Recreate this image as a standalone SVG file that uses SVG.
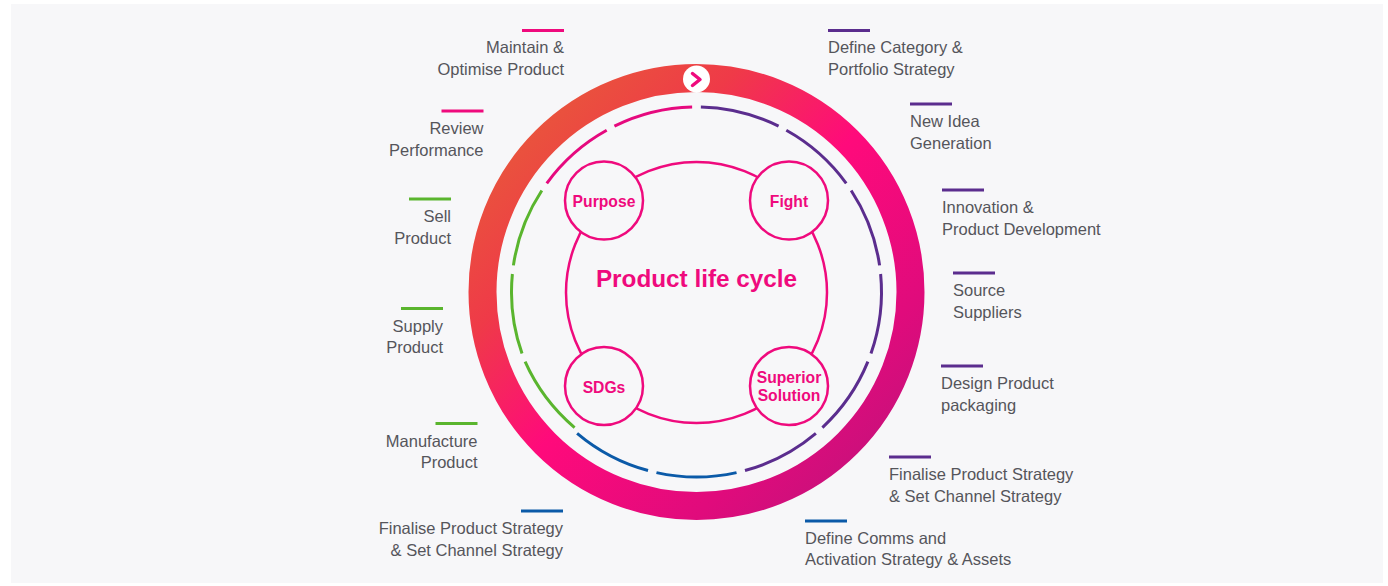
<svg xmlns="http://www.w3.org/2000/svg" width="1388" height="586" viewBox="0 0 1388 586">
<defs>
<linearGradient id="ringGrad" gradientUnits="userSpaceOnUse" x1="470" y1="64" x2="923" y2="520">
<stop offset="0.1" stop-color="#e8593a"/>
<stop offset="0.3" stop-color="#ef3a48"/>
<stop offset="0.5" stop-color="#ff0a7b"/>
<stop offset="0.75" stop-color="#e00b7c"/>
<stop offset="1" stop-color="#b3157a"/>
</linearGradient>
<style>
.lbl{font-family:"Liberation Sans",Arial,sans-serif;font-size:16.5px;fill:#55555b}
.l{text-anchor:end}
.node circle{fill:#f7f7f9;stroke:#ef0a7d;stroke-width:2.5}
.node text{font-family:"Liberation Sans",Arial,sans-serif;font-weight:bold;font-size:15.7px;fill:#ef0a7d;text-anchor:middle}
.seg{fill:none;stroke-width:3}
.tick{stroke-width:3}
.pu{stroke:#5b2d8e}
.bl{stroke:#0b5aa8}
.gr{stroke:#5ab52e}
.pk{stroke:#ef0a7d}
.pkd{stroke:#e6097e}
</style>
</defs>
<rect x="11" y="4" width="1372" height="579" fill="#f7f7f9"/>

<g id="outer-ring">
<circle cx="696.5" cy="292" r="214" fill="none" stroke="url(#ringGrad)" stroke-width="28"/>
<circle cx="696.5" cy="79" r="13.5" fill="#ffffff"/>
<polyline points="692.5,73.5 700,79.5 692.5,85.5" fill="none" stroke="#ef0a7d" stroke-width="3.5" stroke-linecap="round" stroke-linejoin="round"/>
</g>

<g id="connectors">
<path class="seg pu" d="M700.86,107.05 A185,185 0 0 1 778.58,126.20"/>
<path class="seg pu" d="M786.30,130.26 A185,185 0 0 1 846.22,183.34"/>
<path class="seg pu" d="M851.18,190.52 A185,185 0 0 1 879.58,265.39"/>
<path class="seg pu" d="M880.62,274.01 A185,185 0 0 1 870.98,353.51"/>
<path class="seg pu" d="M867.88,361.66 A185,185 0 0 1 822.41,427.55"/>
<path class="seg pu" d="M815.89,433.33 A185,185 0 0 1 744.98,470.54"/>
<path class="seg bl" d="M736.54,472.62 A185,185 0 0 1 656.46,472.62"/>
<path class="seg bl" d="M648.02,470.54 A185,185 0 0 1 577.11,433.33"/>
<path class="seg gr" d="M574.59,427.55 A185,185 0 0 1 525.12,361.66"/>
<path class="seg gr" d="M522.02,353.51 A185,185 0 0 1 512.38,274.01"/>
<path class="seg gr" d="M513.42,265.39 A185,185 0 0 1 541.82,190.52"/>
<path class="seg pkd" d="M546.78,183.34 A185,185 0 0 1 606.70,130.26"/>
<path class="seg pkd" d="M614.42,126.20 A185,185 0 0 1 692.14,107.05"/>
<circle cx="696.5" cy="292.5" r="130.5" fill="none" stroke="#ef0a7d" stroke-width="2.5"/>
</g>

<g id="title">
<text x="696.5" y="287" font-family="'Liberation Sans',Arial,sans-serif" font-weight="bold" font-size="24.3" fill="#ef0a7d" text-anchor="middle">Product life cycle</text>
</g>

<g id="node-purpose" class="node">
<circle cx="604" cy="200.5" r="39"/>
<text x="604" y="207">Purpose</text>
</g>
<g id="node-fight" class="node">
<circle cx="789" cy="200.5" r="39"/>
<text x="789" y="207">Fight</text>
</g>
<g id="node-sdgs" class="node">
<circle cx="604" cy="386" r="39"/>
<text x="604" y="393">SDGs</text>
</g>
<g id="node-superior" class="node">
<circle cx="789" cy="386" r="39"/>
<text x="789" y="383">Superior</text>
<text x="789" y="400.5">Solution</text>
</g>

<g id="label-maintain">
<line class="tick pk" x1="522" y1="30.5" x2="564" y2="30.5"/>
<text class="lbl l" x="564" y="53.3">Maintain &amp;</text>
<text class="lbl l" x="564" y="75">Optimise Product</text>
</g>
<g id="label-review">
<line class="tick pk" x1="441.5" y1="111" x2="483.5" y2="111"/>
<text class="lbl l" x="483.5" y="134">Review</text>
<text class="lbl l" x="483.5" y="155.5">Performance</text>
</g>
<g id="label-sell">
<line class="tick gr" x1="409" y1="199" x2="451" y2="199"/>
<text class="lbl l" x="451" y="222">Sell</text>
<text class="lbl l" x="451" y="243.5">Product</text>
</g>
<g id="label-supply">
<line class="tick gr" x1="401" y1="308.5" x2="443" y2="308.5"/>
<text class="lbl l" x="443" y="331.5">Supply</text>
<text class="lbl l" x="443" y="353">Product</text>
</g>
<g id="label-manufacture">
<line class="tick gr" x1="435.5" y1="423.5" x2="477.5" y2="423.5"/>
<text class="lbl l" x="477.5" y="446.5">Manufacture</text>
<text class="lbl l" x="477.5" y="468">Product</text>
</g>
<g id="label-finalise-left">
<line class="tick bl" x1="521" y1="511" x2="563" y2="511"/>
<text class="lbl l" x="563" y="534">Finalise Product Strategy</text>
<text class="lbl l" x="563" y="555.5">&amp; Set Channel Strategy</text>
</g>

<g id="label-define-category">
<line class="tick pu" x1="828" y1="30.5" x2="870" y2="30.5"/>
<text class="lbl" x="828" y="53.3">Define Category &amp;</text>
<text class="lbl" x="828" y="75">Portfolio Strategy</text>
</g>
<g id="label-new-idea">
<line class="tick pu" x1="910" y1="104" x2="952" y2="104"/>
<text class="lbl" x="910" y="127.3">New Idea</text>
<text class="lbl" x="910" y="148.5">Generation</text>
</g>
<g id="label-innovation">
<line class="tick pu" x1="942" y1="190" x2="984" y2="190"/>
<text class="lbl" x="942" y="213.3">Innovation &amp;</text>
<text class="lbl" x="942" y="234.5">Product Development</text>
</g>
<g id="label-source">
<line class="tick pu" x1="953" y1="273" x2="995" y2="273"/>
<text class="lbl" x="953" y="296">Source</text>
<text class="lbl" x="953" y="317.5">Suppliers</text>
</g>
<g id="label-design">
<line class="tick pu" x1="941" y1="366" x2="983" y2="366"/>
<text class="lbl" x="941" y="389">Design Product</text>
<text class="lbl" x="941" y="410.5">packaging</text>
</g>
<g id="label-finalise-right">
<line class="tick pu" x1="889" y1="457" x2="931" y2="457"/>
<text class="lbl" x="889" y="479.5">Finalise Product Strategy</text>
<text class="lbl" x="889" y="501.5">&amp; Set Channel Strategy</text>
</g>
<g id="label-define-comms">
<line class="tick bl" x1="805" y1="521" x2="847" y2="521"/>
<text class="lbl" x="805" y="543.5">Define Comms and</text>
<text class="lbl" x="805" y="565">Activation Strategy &amp; Assets</text>
</g>
</svg>
